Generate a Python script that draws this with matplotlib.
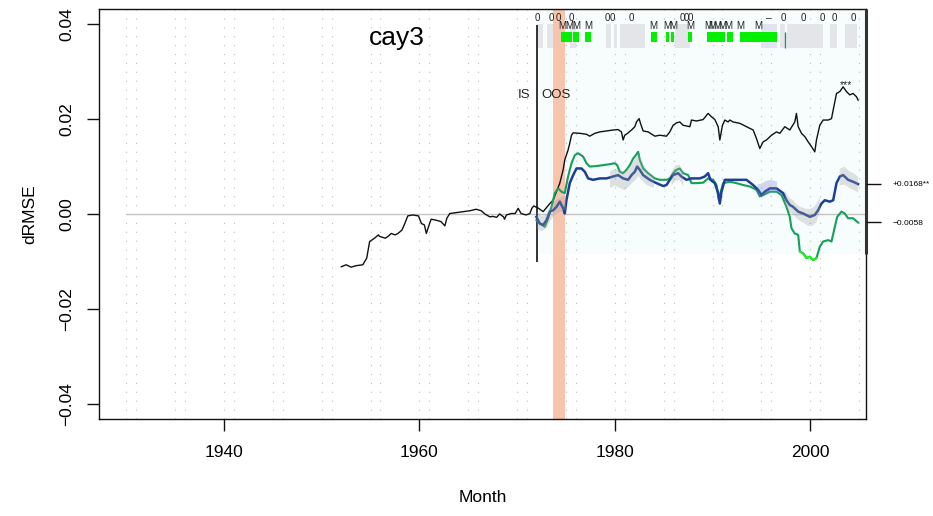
import numpy as np
import matplotlib
matplotlib.use("Agg")
import matplotlib.pyplot as plt
from matplotlib.patches import Rectangle

plt.rcParams['font.family'] = ['Liberation Sans', 'DejaVu Sans']

# ---------------- data ----------------
title = "cay3"
x_ticks = [1940, 1960, 1980, 2000]
y_ticks = [-0.04, -0.02, 0.0, 0.02, 0.04]
y_tick_labels = ["\u22120.04", "\u22120.02", "0.00", "0.02", "0.04"]

black_pre_years = [1952.0, 1952.5, 1953.0, 1953.5, 1954.2, 1954.6, 1954.9, 1955.4, 1955.8, 1955.9,
                   1956.5, 1956.8, 1957.1, 1957.5, 1957.8, 1958.2, 1958.5, 1958.8, 1959.3, 1959.9,
                   1960.2, 1960.5, 1960.7, 1961.1, 1961.2, 1961.7, 1962.2, 1962.6, 1962.8, 1963.1,
                   1963.8, 1964.5, 1965.2, 1965.8, 1966.3, 1966.7, 1967.2, 1967.5, 1967.9, 1968.2,
                   1968.6, 1968.7, 1968.9, 1969.4, 1969.8, 1970.1, 1970.4, 1970.9, 1971.3, 1971.5,
                   1971.7, 1971.9]
black_pre_vals = [-0.0111, -0.0107, -0.0112, -0.0109, -0.0107, -0.0093, -0.0058, -0.0051, -0.0044, -0.0047,
                  -0.0051, -0.0047, -0.0041, -0.0044, -0.0041, -0.0034, -0.0020, -0.0004, -0.0002, -0.0004,
                  -0.0020, -0.0023, -0.0041, -0.0016, -0.0011, -0.0013, -0.0016, -0.0025, -0.0009, 0.0001,
                  0.0003, 0.0005, 0.0007, 0.0010, 0.0007, 0.0000, -0.0006, -0.0005, -0.0007, 0.0000,
                  -0.0006, -0.0011, -0.0002, 0.0001, 0.0001, 0.0012, 0.0001, -0.0002, 0.0001, 0.0012,
                  0.0017, 0.0015]

black_oos_years = [1971.97, 1972.66, 1973.34, 1973.68, 1974.02, 1974.36, 1974.70, 1974.87, 1975.21, 1975.38,
                   1975.56, 1975.73, 1976.41, 1977.09, 1977.43, 1977.94, 1978.46, 1979.14, 1979.82, 1980.33,
                   1980.67, 1980.84, 1981.01, 1981.36, 1981.70, 1982.04, 1982.21, 1982.48, 1982.62, 1982.89,
                   1983.40, 1984.09, 1984.60, 1985.28, 1985.62, 1985.96, 1986.30, 1986.64, 1986.98, 1987.67,
                   1987.84, 1988.35, 1989.03, 1989.54, 1989.88, 1990.23, 1990.57, 1990.74, 1991.01, 1991.25,
                   1991.59, 1991.76, 1992.10, 1992.79, 1993.47, 1994.15, 1994.49, 1994.83, 1995.17, 1995.51,
                   1996.03, 1996.54, 1996.88, 1997.39, 1997.90, 1998.41, 1998.58, 1998.76, 1999.10, 1999.44,
                   1999.78, 2000.12, 2000.46, 2000.63, 2000.97, 2001.31, 2001.83, 2002.17, 2002.34, 2002.68,
                   2003.02, 2003.36, 2003.70, 2004.04, 2004.38, 2004.73, 2004.89]
black_oos_vals = [0.0015, 0.0005, 0.0022, 0.0029, 0.0047, 0.0065, 0.0093, 0.0114, 0.0135, 0.0149,
                  0.0166, 0.0171, 0.0170, 0.0168, 0.0164, 0.0170, 0.0173, 0.0175, 0.0177, 0.0178,
                  0.0173, 0.0156, 0.0166, 0.0171, 0.0177, 0.0184, 0.0194, 0.0201, 0.0191, 0.0175,
                  0.0173, 0.0164, 0.0166, 0.0164, 0.0173, 0.0187, 0.0192, 0.0194, 0.0187, 0.0184,
                  0.0198, 0.0196, 0.0199, 0.0212, 0.0205, 0.0199, 0.0184, 0.0156, 0.0187, 0.0198,
                  0.0194, 0.0198, 0.0194, 0.0191, 0.0184, 0.0177, 0.0159, 0.0138, 0.0152, 0.0156,
                  0.0166, 0.0173, 0.0170, 0.0184, 0.0177, 0.0194, 0.0212, 0.0184, 0.0170, 0.0163,
                  0.0152, 0.0142, 0.0131, 0.0156, 0.0187, 0.0198, 0.0198, 0.0201, 0.0219, 0.0254,
                  0.0258, 0.0268, 0.0258, 0.0251, 0.0254, 0.0247, 0.0240]

blue_years = [1971.97, 1972.31, 1972.66, 1973.00, 1973.34, 1973.68, 1974.02, 1974.36, 1974.70, 1974.87,
              1975.04, 1975.38, 1975.73, 1976.07, 1976.58, 1976.92, 1977.26, 1977.77, 1978.46, 1979.14,
              1979.82, 1980.33, 1980.84, 1981.36, 1981.70, 1982.04, 1982.28, 1982.55, 1982.89, 1983.57,
              1984.26, 1984.94, 1985.28, 1985.62, 1985.96, 1986.47, 1986.81, 1987.33, 1987.84, 1988.69,
              1989.20, 1989.54, 1989.78, 1990.23, 1990.57, 1990.74, 1990.91, 1991.25, 1991.76, 1992.44,
              1993.47, 1994.15, 1994.66, 1995.00, 1995.34, 1995.86, 1996.54, 1997.22, 1997.56, 1997.90,
              1998.24, 1998.76, 1999.27, 1999.95, 2000.46, 2000.80, 2001.14, 2001.48, 2002.00, 2002.34,
              2002.68, 2003.02, 2003.36, 2003.87, 2004.38, 2004.89]
blue_vals = [-0.0006, -0.0020, -0.0023, -0.0013, 0.0005, 0.0008, 0.0015, 0.0026, 0.0012, 0.0001,
             0.0029, 0.0065, 0.0082, 0.0096, 0.0096, 0.0089, 0.0075, 0.0072, 0.0075, 0.0075,
             0.0079, 0.0082, 0.0075, 0.0072, 0.0082, 0.0089, 0.0100, 0.0093, 0.0082, 0.0072,
             0.0065, 0.0059, 0.0061, 0.0072, 0.0082, 0.0086, 0.0079, 0.0072, 0.0075, 0.0075,
             0.0079, 0.0086, 0.0072, 0.0065, 0.0044, 0.0022, 0.0047, 0.0072, 0.0072, 0.0072,
             0.0072, 0.0061, 0.0051, 0.0040, 0.0047, 0.0054, 0.0054, 0.0044, 0.0029, 0.0019,
             0.0015, 0.0005, 0.0001, -0.0006, -0.0002, 0.0008, 0.0022, 0.0029, 0.0026, 0.0029,
             0.0065, 0.0079, 0.0082, 0.0072, 0.0068, 0.0063]

green_years = [1971.97, 1972.31, 1972.83, 1973.17, 1973.51, 1973.85, 1974.19, 1974.53, 1974.87, 1975.21,
               1975.56, 1975.90, 1976.24, 1976.75, 1977.09, 1977.43, 1978.11, 1978.80, 1979.48, 1979.99,
               1980.23, 1980.50, 1980.84, 1981.18, 1981.53, 1981.87, 1982.14, 1982.38, 1982.55, 1982.89,
               1983.40, 1984.09, 1984.60, 1985.28, 1985.62, 1985.96, 1986.30, 1986.64, 1986.98, 1987.50,
               1987.84, 1988.35, 1989.03, 1989.54, 1990.06, 1990.40, 1990.64, 1990.84, 1991.08, 1991.76,
               1992.44, 1993.13, 1993.81, 1994.49, 1994.83, 1995.17, 1995.86, 1996.54, 1997.05, 1997.56,
               1997.90, 1998.07, 1998.41, 1998.76, 1998.93, 1999.27, 1999.61, 1999.95, 2000.29, 2000.63,
               2000.97, 2001.31, 2001.83, 2002.17, 2002.51, 2002.75, 2003.19, 2003.53, 2003.87, 2004.38,
               2004.89]
green_vals = [-0.0013, -0.0020, -0.0027, -0.0009, 0.0015, 0.0044, 0.0054, 0.0047, 0.0044, 0.0079,
              0.0107, 0.0124, 0.0128, 0.0121, 0.0107, 0.0100, 0.0101, 0.0103, 0.0105, 0.0107,
              0.0103, 0.0089, 0.0086, 0.0093, 0.0103, 0.0117, 0.0124, 0.0131, 0.0114, 0.0096,
              0.0086, 0.0075, 0.0072, 0.0072, 0.0075, 0.0086, 0.0093, 0.0096, 0.0086, 0.0082,
              0.0065, 0.0065, 0.0066, 0.0075, 0.0072, 0.0061, 0.0029, 0.0047, 0.0065, 0.0068,
              0.0065, 0.0061, 0.0058, 0.0051, 0.0037, 0.0040, 0.0047, 0.0047, 0.0040, 0.0015,
              -0.0006, -0.0030, -0.0041, -0.0044, -0.0079, -0.0083, -0.0093, -0.0090, -0.0097, -0.0093,
              -0.0069, -0.0058, -0.0055, -0.0058, -0.0027, -0.0006, 0.0005, 0.0001, -0.0009, -0.0009,
              -0.0018]
green_lime_start, green_lime_end = 1998.85, 2000.75

# shaded bands around the forecasts
band_segments = [
    ([1972.0, 1972.5, 1973.0, 1973.5, 1974.0, 1974.5, 1975.0],
     [-0.0032, -0.0036, -0.0030, -0.0010, 0.0000, 0.0005, 0.0010],
     [0.0005, -0.0005, 0.0000, 0.0020, 0.0030, 0.0035, 0.0040], '#a0a0a0'),
    ([1979.5, 1980.0, 1980.5, 1981.0, 1981.5, 1982.0, 1982.4, 1982.8, 1983.2, 1983.6, 1984.0],
     [0.0055, 0.0060, 0.0055, 0.0050, 0.0060, 0.0070, 0.0080, 0.0070, 0.0062, 0.0058, 0.0055],
     [0.0090, 0.0095, 0.0092, 0.0090, 0.0100, 0.0115, 0.0128, 0.0110, 0.0095, 0.0085, 0.0080], '#a0a0a0'),
    ([1985.8, 1986.2, 1986.6, 1987.0],
     [0.0060, 0.0070, 0.0072, 0.0058],
     [0.0090, 0.0102, 0.0104, 0.0088], '#a0a0a0'),
    ([1994.6, 1995.0, 1995.5, 1996.0, 1996.6],
     [0.0040, 0.0035, 0.0040, 0.0045, 0.0045],
     [0.0062, 0.0064, 0.0070, 0.0072, 0.0068], '#8080d0'),
    ([1997.4, 1997.8, 1998.2, 1998.6, 1999.0, 1999.4, 1999.8, 2000.2, 2000.6, 2001.0],
     [0.0020, 0.0005, 0.0000, -0.0010, -0.0015, -0.0020, -0.0025, -0.0025, -0.0018, 0.0005],
     [0.0050, 0.0035, 0.0030, 0.0020, 0.0015, 0.0012, 0.0010, 0.0012, 0.0020, 0.0035], '#a0a0a0'),
    ([2003.0, 2003.5, 2004.0, 2004.5, 2004.9],
     [0.0060, 0.0062, 0.0055, 0.0050, 0.0045],
     [0.0095, 0.0100, 0.0090, 0.0085, 0.0078], '#a0a0a0'),
]

# top strip
gray_spans = [(1972.0, 1972.6), (1973.1, 1974.4), (1975.4, 1976.0), (1979.1, 1979.6), (1979.9, 1980.2),
              (1980.5, 1983.1), (1986.2, 1987.7), (1996.9, 1997.4), (1997.6, 2001.3), (2002.0, 2002.7),
              (2003.5, 2004.8)]
lavender_spans = [(1995.0, 1996.6)]
green_spans = [(1974.5, 1975.6), (1975.7, 1976.3), (1976.9, 1977.6), (1983.7, 1984.3), (1985.2, 1985.5),
               (1985.7, 1986.0), (1987.5, 1987.9), (1989.4, 1991.3), (1991.5, 1992.1), (1992.8, 1996.6)]
teal_mark = 1997.4
zero_label_years = [1972.11, 1973.54, 1974.26, 1975.59, 1979.27, 1979.78, 1981.73, 1986.95, 1987.36,
                    1987.77, 1997.19, 1999.24, 2001.18, 2002.41, 2004.36]
dash_label_years = [1995.76]
m_label_years = [1974.57, 1975.28, 1976.00, 1977.23, 1983.88, 1985.32, 1985.93, 1987.67, 1989.51,
                 1989.92, 1990.43, 1990.94, 1991.56, 1992.79, 1994.63]

split_year = 1971.98
break_band = (1973.64, 1974.87)
right_tick_vals = [0.0064, -0.0017]
right_tick_labels = ["+0.0168**", "\u22120.0058"]
grid_years = [1930, 1931, 1935, 1936, 1940, 1941, 1945, 1946, 1950, 1951, 1955, 1956, 1960, 1961,
              1965, 1966, 1970, 1971, 1975, 1976, 1980, 1981, 1985, 1986, 1990, 1991, 1995, 1996,
              2000, 2001, 2005]

# ---------------- plot ----------------
fig = plt.figure(figsize=(9.33, 5.16), dpi=100)
ax = fig.add_axes([99/933, 1-419/516, (866-99)/933, (419-9)/516])
xlim = (1927.2, 2005.7)
ylim = (-0.0432, 0.0432)
ax.set_xlim(*xlim)
ax.set_ylim(*ylim)

# pale OOS background
ax.add_patch(Rectangle((split_year, -0.0085), xlim[1]-split_year, ylim[1]+0.0085,
                       facecolor='#f7fcfd', edgecolor='none', zorder=0))

for gy in grid_years:
    ax.axvline(gy, color='#bdbdbd', lw=0.8, ls=(0, (1, 7)), zorder=0.5)

ax.hlines(0, 1930, xlim[1], color='#c4c4c4', lw=1, zorder=1)

# break band
ax.axvspan(break_band[0], break_band[1], facecolor='#f7c4ae', edgecolor='none', zorder=1.2)

# top strip
for a, b in gray_spans:
    ax.add_patch(Rectangle((a, 0.0349), b-a, 0.0051, facecolor='#e3e5e9', edgecolor='none', zorder=1.1))
for a, b in lavender_spans:
    ax.add_patch(Rectangle((a, 0.0349), b-a, 0.0051, facecolor='#e2e2f2', edgecolor='none', zorder=1.1))
for a, b in green_spans:
    ax.add_patch(Rectangle((a, 0.0362), b-a, 0.0021, facecolor='#00f000', edgecolor='none', zorder=1.3))
ax.vlines(teal_mark, 0.0349, 0.0383, color='#1f8f7a', lw=1, zorder=1.4)
for yr in zero_label_years:
    ax.text(yr, 0.0413, "0", fontsize=7, ha='center', va='center', color='#222222', zorder=3)
for yr in dash_label_years:
    ax.text(yr, 0.0413, "\u2013", fontsize=7, ha='center', va='center', color='#222222', zorder=3)
for yr in m_label_years:
    ax.text(yr, 0.0397, "M", fontsize=7, ha='center', va='center', color='#222222', zorder=3)

# series
ax.plot(black_pre_years, black_pre_vals, color='#111111', lw=1.0, zorder=2)
ax.plot(black_oos_years, black_oos_vals, color='#111111', lw=1.0, zorder=2)
ax.vlines(split_year, -0.0101, 0.0398, color='#111111', lw=1.2, zorder=2.1)

gy_arr = np.array(green_years)
gv_arr = np.array(green_vals)
ax.plot(green_years, green_vals, color='#14a05a', lw=1.5, zorder=2.2)
mask = (gy_arr >= green_lime_start) & (gy_arr <= green_lime_end)
ax.plot(gy_arr[mask], gv_arr[mask], color='#22ee22', lw=1.5, zorder=2.3)
ax.plot(blue_years, blue_vals, color='#1d3f95', lw=1.8, zorder=2.4)

for yrs, lo, hi, col in band_segments:
    ax.fill_between(yrs, lo, hi, facecolor=col, alpha=0.3, edgecolor='none', zorder=2.6)

# texts
ax.text(1957.7, 0.0370, title, fontsize=19, ha='center', va='center')
ax.text(1971.3, 0.0251, "IS", fontsize=9.5, ha='right', va='center', color='#222222')
ax.text(1972.5, 0.0251, "OOS", fontsize=9.5, ha='left', va='center', color='#222222')
ax.text(2003.7, 0.0272, "***", fontsize=7.5, ha='center', va='center', color='#222222', zorder=3)

# axes styling
for s in ax.spines.values():
    s.set_linewidth(1.0)
    s.set_color('#111111')
ax.vlines(xlim[1], -0.0085, ylim[1], color='#333333', lw=2.2, zorder=5, clip_on=False)

ax.set_xticks(x_ticks)
ax.set_xticklabels([str(t) for t in x_ticks], fontsize=12.5)
ax.set_yticks(y_ticks)
ax.set_yticklabels(y_tick_labels, fontsize=12.5, rotation=90, va='center')
ax.tick_params(axis='both', direction='out', length=8.6, width=1, color='#111111')
ax.tick_params(axis='x', pad=10)
ax.tick_params(axis='y', pad=9)
ax.set_xlabel("Month", fontsize=12.5, labelpad=22)
ax.set_ylabel("dRMSE", fontsize=12.5, labelpad=16)

ax2 = ax.twinx()
ax2.set_ylim(*ylim)
ax2.set_yticks(right_tick_vals)
ax2.set_yticklabels(right_tick_labels, fontsize=6)
ax2.tick_params(axis='y', direction='out', length=11, width=1, pad=8, color='#111111')
for s in ax2.spines.values():
    s.set_visible(False)

fig.savefig("out.png", dpi=100)
